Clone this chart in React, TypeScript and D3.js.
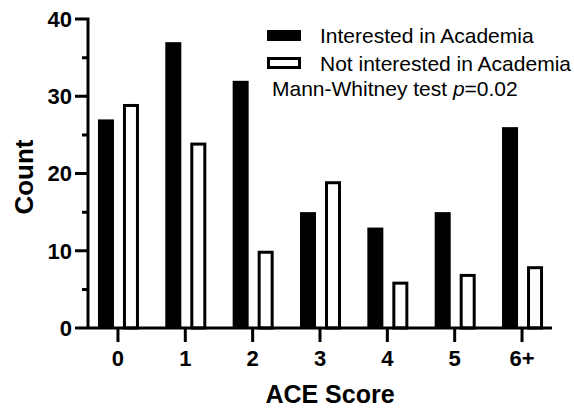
import React from 'react'
import * as d3 from 'd3'

const categories = ['0', '1', '2', '3', '4', '5', '6+']
const interested = [27, 37, 32, 15, 13, 15, 26]
const notInterested = [29, 24, 10, 19, 6, 7, 8]
const seriesNames = ['Interested in Academia', 'Not interested in Academia']
const majorTicks = [0, 10, 20, 30, 40]
const minorTicks = [5, 15, 25, 35]

const W = 574
const H = 408
const FONT = "'Liberation Sans', Arial, sans-serif"

const left = 88
const right = 552
const top = 19
const bottom = 328
const sw = 3

function App() {
    const x = d3.scalePoint().domain(categories).range([left, right]).padding(0.445)
    const inner = d3.scaleBand().domain(seriesNames).range([-20, 21]).paddingInner(0.36)
    const y = d3.scaleLinear().domain([0, 40]).range([bottom, top])
    const bw = inner.bandwidth()
    const h = sw / 2

    // axis drawn as filled shapes (rect outlines as closed paths)
    const box = (x0: number, y0: number, x1: number, y1: number) => `M${x0},${y0}H${x1}V${y1}H${x0}Z`
    const axisD =
        box(left - h, y(40) - h, left + h, bottom + h) +
        box(left - h, bottom - h, right, bottom + h) +
        majorTicks.map(v => box(left - 13, y(v) - h, left, y(v) + h)).join('') +
        minorTicks.map(v => box(left - 6, y(v) - h, left, y(v) + h)).join('') +
        categories.map(c => box(x(c)! - h, bottom, x(c)! + h, bottom + 14)).join('')

    return (
        <svg width={W} height={H} style={{ position: 'absolute', left: 0, top: 0, background: '#fff' }}>
            {/* bars */}
            {categories.map((c, i) => (
                <g key={c}>
                    <rect
                        x={x(c)! + inner(seriesNames[0])!}
                        y={y(interested[i])}
                        width={bw}
                        height={bottom - y(interested[i])}
                        fill="#000"
                    />
                    <rect
                        x={x(c)! + inner(seriesNames[1])! + h}
                        y={y(notInterested[i]) + h}
                        width={bw - sw}
                        height={bottom - y(notInterested[i]) - h}
                        fill="#fff"
                        stroke="#000"
                        strokeWidth={sw}
                    />
                </g>
            ))}

            {/* axes */}
            <path d={axisD} fill="#000" fillRule="nonzero" />

            {/* tick labels */}
            <g fontFamily={FONT} fontWeight="bold" fontSize={22} fill="#000">
                {majorTicks.map(v => (
                    <text key={'yl' + v} x={left - 16} y={y(v)} dy="0.36em" textAnchor="end">{v}</text>
                ))}
                {categories.map(c => (
                    <text key={'xl' + c} x={x(c)!} y={366} textAnchor="middle">{c}</text>
                ))}
            </g>

            {/* axis titles */}
            <text x={330} y={403} textAnchor="middle" fontFamily={FONT} fontWeight="bold" fontSize={25}>ACE Score</text>
            <text transform="translate(33,177) rotate(-90)" textAnchor="middle" fontFamily={FONT} fontWeight="bold" fontSize={26}>Count</text>

            {/* legend */}
            <g fontFamily={FONT} fontSize={21}>
                <rect x={267} y={30} width={34} height={11} fill="#000" />
                <rect x={268.5} y={58.5} width={31} height={9} fill="#fff" stroke="#000" strokeWidth={sw} />
                {seriesNames.map((s, i) => (
                    <text key={s} x={320} y={43 + i * 28}>{s}</text>
                ))}
                <text x={272} y={96}>
                    Mann-Whitney test <tspan fontStyle="italic">p</tspan>=0.02
                </text>
            </g>
        </svg>
    )
}

export default App
